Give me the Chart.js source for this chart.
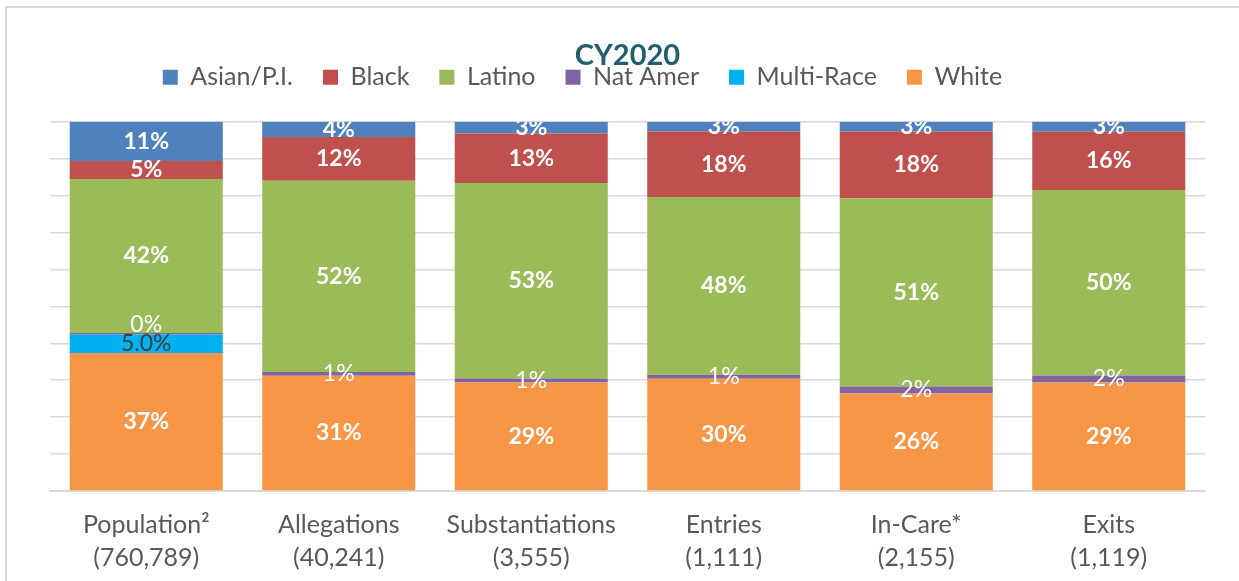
<!DOCTYPE html>
<html>
<head>
<meta charset="utf-8">
<title>CY2020</title>
<script src="https://cdn.jsdelivr.net/npm/chart.js@4.4.1/dist/chart.umd.min.js"></script>
<style>
  html, body { margin: 0; padding: 0; background: #fff; overflow: hidden; }
  #frame { position: absolute; left: 5px; top: 6px; width: 1300px; height: 700px; border: 2px solid #d9d9d9; }
  #wrap { position: absolute; left: 0; top: 0; width: 1239px; height: 581px; }
</style>
</head>
<body>
<div id="frame"></div>
<div id="wrap"><canvas id="chart-cy2020"></canvas></div>
<script>
// CY2020 – share of each group by race/ethnicity (percent)

const categories = ["Population²", "Allegations", "Substantiations", "Entries", "In-Care*", "Exits"];
const caseCounts = ["(760,789)", "(40,241)", "(3,555)", "(1,111)", "(2,155)", "(1,119)"];

const asianPI   = [10.6,  4.1,  3.2,  2.6,  2.6,  2.7];
const black     = [ 4.9, 11.9, 13.4, 17.8, 18.1, 15.8];
const latino    = [41.7, 51.8, 52.9, 48.1, 51.0, 50.2];
const natAmer   = [ 0.4,  1.0,  1.1,  1.1,  1.9,  1.9];
const multiRace = [ 5.0,  0,    0,    0,    0,    0  ];
const white     = [37.4, 31.2, 29.4, 30.4, 26.4, 29.4];

const yTicks = [0, 10, 20, 30, 40, 50, 60, 70, 80, 90, 100];

Chart.defaults.font.family = "Lato, 'Open Sans', sans-serif";
Chart.defaults.color = "#595959";

// labels in the middle of every slice (no datalabels plugin available)
const segmentLabels = {
  id: "segmentLabels",
  afterDatasetsDraw(chart) {
    const { ctx, chartArea } = chart;
    ctx.save();
    ctx.beginPath();
    ctx.rect(chartArea.left, chartArea.top, chartArea.right - chartArea.left, chartArea.bottom - chartArea.top);
    ctx.clip();
    ctx.textAlign = "center";
    ctx.textBaseline = "middle";
    chart.data.datasets.forEach((ds, di) => {
      const meta = chart.getDatasetMeta(di);
      if (meta.hidden) return;
      const st = ds.labelStyle;
      ctx.font = (st.bold ? "bold " : "") + "23px Lato, 'Open Sans', sans-serif";
      ctx.fillStyle = st.color;
      meta.data.forEach((bar, i) => {
        const v = ds.data[i];
        if (!v) return;
        let y = (bar.y + bar.base) / 2;
        if (v < 0.5) y -= 9; // hairline slice, lift its label off the neighbour
        const txt = st.decimals ? v.toFixed(1) + "%" : Math.round(v) + "%";
        ctx.fillText(txt, bar.x, y);
      });
    });
    ctx.restore();
  }
};

// title and legend sit closer together than Chart.js would stack them
const headerPlacement = {
  id: "headerPlacement",
  afterLayout(chart) {
    const t = chart.titleBlock;
    const l = chart.legend;
    if (t) { t.top += 16; t.bottom += 16; }
    if (l) { l.top -= 22; l.bottom -= 22; l.left -= 45; l.right -= 45; }
  }
};

const ctx = document.getElementById("chart-cy2020").getContext("2d");

new Chart(ctx, {
  type: "bar",
  data: {
    labels: categories.map((c, i) => [c, caseCounts[i]]),
    datasets: [
      { label: "White",      data: white,     backgroundColor: "#F79646", labelStyle: { color: "#ffffff", bold: true } },
      { label: "Multi-Race", data: multiRace, backgroundColor: "#00B0F0", labelStyle: { color: "#404040", bold: false, decimals: true } },
      { label: "Nat Amer",   data: natAmer,   backgroundColor: "#8064A2", labelStyle: { color: "#ffffff", bold: false } },
      { label: "Latino",     data: latino,    backgroundColor: "#9BBB59", labelStyle: { color: "#ffffff", bold: true } },
      { label: "Black",      data: black,     backgroundColor: "#C0504D", labelStyle: { color: "#ffffff", bold: true } },
      { label: "Asian/P.I.", data: asianPI,   backgroundColor: "#4F81BD", labelStyle: { color: "#ffffff", bold: true } }
    ]
  },
  options: {
    responsive: true,
    maintainAspectRatio: false,
    animation: false,
    layout: { padding: { top: 0, left: 50, right: 34, bottom: 0 } },
    datasets: {
      bar: { barPercentage: 0.795, categoryPercentage: 1.0, borderWidth: 0 }
    },
    plugins: {
      title: {
        display: true,
        text: "CY2020",
        color: "#215E6E",
        font: { size: 29, weight: "bold" },
        padding: { top: 22, bottom: 0 }
      },
      legend: {
        display: true,
        position: "top",
        reverse: true,
        labels: {
          boxWidth: 15,
          boxHeight: 15,
          padding: 30,
          color: "#595959",
          font: { size: 25 }
        }
      },
      tooltip: { enabled: false }
    },
    scales: {
      x: {
        stacked: true,
        grid: { display: false },
        border: { display: true, color: "#d9d9d9", width: 2 },
        ticks: {
          color: "#595959",
          padding: 9,
          maxRotation: 0,
          font: { size: 25, lineHeight: 1.32 }
        },
        afterFit: (scale) => { scale.height = 90; }
      },
      y: {
        stacked: true,
        min: 0,
        max: 100,
        afterBuildTicks: (scale) => { scale.ticks = yTicks.map(v => ({ value: v })); },
        ticks: { display: false },
        grid: { color: "#d9d9d9", lineWidth: 1.5, drawTicks: false },
        border: { display: false }
      }
    }
  },
  plugins: [segmentLabels, headerPlacement]
});
</script>
</body>
</html>
